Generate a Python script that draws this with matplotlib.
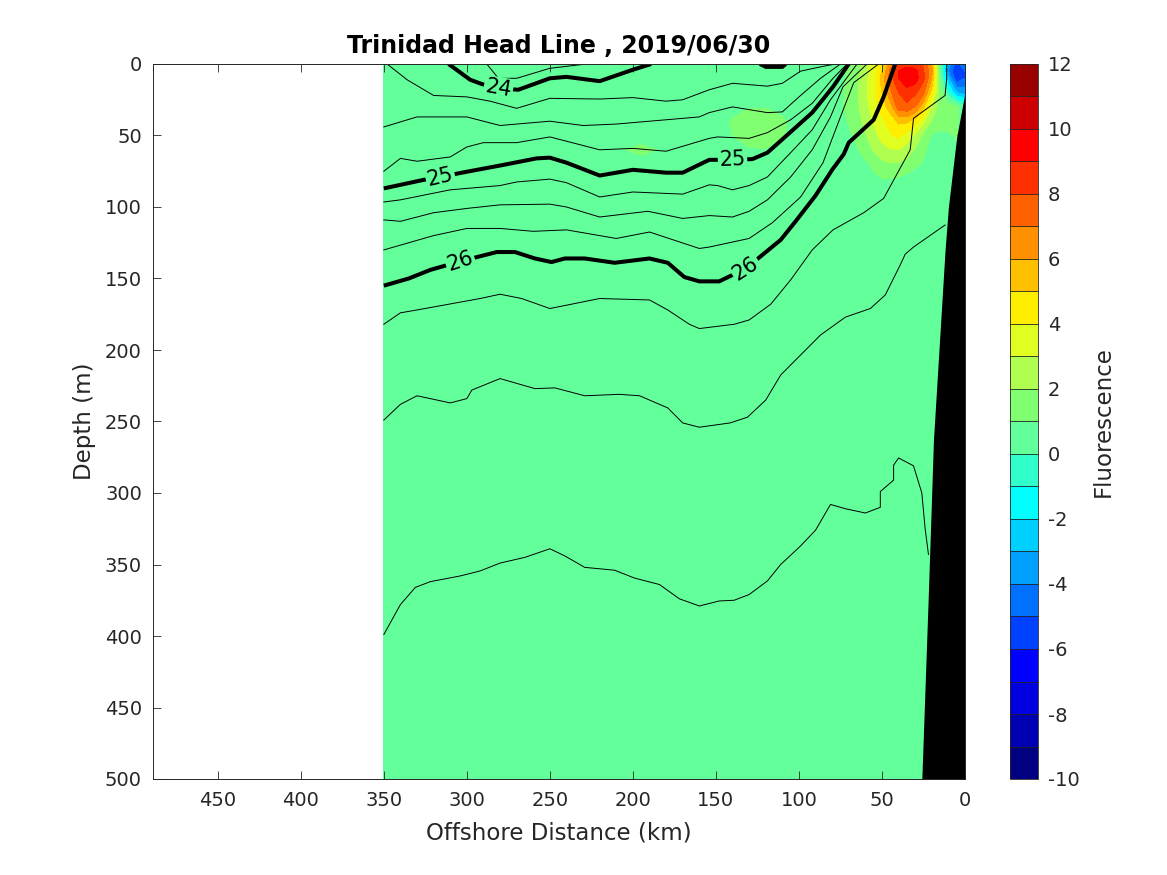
import numpy as np
import matplotlib
matplotlib.use("Agg")
import matplotlib.pyplot as plt
from matplotlib.colors import BoundaryNorm, ListedColormap

# Fluorescence field
fluor_km = [0,5,10,15,20,25,30,35,40,45,50,55,60,65,70,75,80,100,110,120,130,140,150,170,195,220,350]
fluor_depth = [0,5,10,20,30,40,50,60,70,80,90,500]
_far = [.5,.5,.5,.5,.5,.5,.5,.5,.5,.5]
fluor_d0  = [-4,-5.5,-3.5,.5,6,7.8,8.5,8.5,8,6.5,4.5,3.5,2.5,1.6,1,.6,.5] + _far
fluor_d5  = [-5,-6.2,-4,.6,6.3,8.1,9.3,9.7,9,7.2,5,3.6,2.6,1.7,1.1,.6,.5] + _far
fluor_d10 = [-5,-5.8,-3,1,6,8.2,9.5,9.9,9,7.5,5.4,3.7,2.7,1.8,1.2,.7,.5] + _far
fluor_d20 = [-3.5,-3,-.5,1.6,4.5,7.3,8.2,8.5,8,6.8,5,3.8,2.8,1.9,1.3,.8,.5] + _far
fluor_d30 = [.3,1.2,1.5,1.6,2.8,5.2,7,7.8,7.5,5.5,4.5,3.5,2.6,1.8,1.3,.8,.5,.5,.6,.95,.95,.6,.5,.5,.5,.5,.5]
fluor_d40 = [.5,1.1,1.3,1.4,1.9,3.3,4.5,5.2,5.2,4.4,3.8,3.1,2.3,1.6,1.1,.6,.5,.5,1.2,1.6,1.6,1.1,.5,.5,.5,.5,.5]
fluor_d50 = [.5,1.05,.9,.8,.9,1.7,2.8,3.6,4.2,3.9,3.3,2.7,1.9,1.3,.8,.5,.5,.5,1.1,1.5,1.5,1,.5,.5,.5,.5,.5]
fluor_d60 = [.5,.9,.7,.6,.7,1.2,1.9,2.5,3,2.9,2.7,2.1,1.5,.9,.6,.5,.5,.5,.5,.95,.9,.5,.5,.5,1.3,.5,.5]
fluor_d70 = [.5,.5,.5,.5,.6,.9,1.2,1.6,1.9,1.9,1.7,1.2,.8,.6,.5,.5,.5] + _far
fluor_d80 = [.5,.5,.5,.5,.5,.5,.5,.7,.9,1.02,1,.8,.6,.5,.5,.5,.5] + _far
fluor_d90 = [.5] * 27
fluor_d500 = [.5] * 27

# Seabed
bottom_km = [0,5,10,12,19,22,26]
bottom_depth = [20,51,100,130,263,368,500]

# Density contours (thick)
s24a_km = [311,298,291,281,269,250,240,220,200,189]
s24a_d = [0,11,14,17,18,10,9,12,4,0]
s24b_km = [123.5,120,110,108]
s24b_d = [0,2,2,0]
s25_km = [350,326,316,303,280,258,250,240,220,200,180,170,154,140,128,119,105,92,79.5,70]
s25_d = [87,81,79,76,71,66,65.5,69,78,74,76,76,67,67,66.5,62,47.5,34,16,0]
s26_km = [350,335,322,304,282,271,259,249,241,229,211,190,179,169,160,148,132,111,102,90,80,73,70,55,49,42]
s26_d = [155,150,144,138,131.5,131.5,136,138.5,136,136,139,136,139,149,152,152,143,123,110,92,74,63,55,39,23,0]

# Density contours (thin)
a_km = [288,281,270,250,228]
a_d = [0,10,10,3,0]
b_km = [348,336,320,300,286,270,250,220,200,180,170,154,140,119,110,99,87,78]
b_d = [0,11,22,23,26,31,24,24.5,23.5,26,25,18,13.5,15.5,13.5,5,2,0]
c_km = [350,330,300,280,250,230,210,190,160,154,140,119,110,99,87,75]
c_d = [44,37,37,43,40,43,42,40,37,34,30,34,33.5,22,10,0]
d_km = [350,340,330,310,300,290,270,250,220,200,180,154,149,130,119,105,92,79.5,71]
d_d = [75,66,68,65,58,55,55,51,60,59,61,52,51,52,48,39,27.5,10,0]
e_km = [350,340,310,280,270,250,240,220,200,170,154,149,140,130,119,105,92,81,65]
e_d = [96.5,95,88,85,82.5,80.5,83,93,89.5,91,84.5,85,88,85,79,62,46,25,0]
f_km = [350,340,320,300,280,250,240,220,191,170,154,140,130,119,105,92,81,73.5,59]
f_d = [109,110,104,101,98.5,98,100,107,103,108,106,107,103,95,79,60,37,16,0]
g_km = [350,320,300,280,260,240,210,190,160,154,130,116,99,85.5,75,67,52]
g_d = [130,120,115,115,117,116,122,117.5,129,128,122,111,93,69,37,13,0]
h_km = [350,340,330,292,280,267,250,220,190,179,166,160,139,130,117,105,92,79.5,61,49,33,31,12,11,11]
h_d = [182,174,172,164,161,164,171,164,165,172,182,185,182,179,168,151,130,116,104,94,60,38,22,10,0]
i_km = [350,340,330,310,300,297,280,259,247,229,208,196,179,170,160,141.5,131,120,111,99,87,72,57,48,39,36,31,12]
i_d = [249,238,232,237,234,228,220,227,226.5,232,231,232,240.5,251,254,251,247,235,217.5,203.5,189.5,177,171,161.5,140.5,133,128,112.6]
j_km = [350,340,331,322,304,292,280,265,250,241,229,211,199,184,172,160,148,139,130,119,111,99,90,81,72,60,51,51,43,43,40,31,26,24,22]
j_d = [399,378,366,362,358,354.5,349,345,339,344,352,354,359.5,364,374,379,375.5,375,371,361.5,350,337,326,308,311,314,310,299,291,280.5,275.5,281,300,325,343]

thick_lines = [(s24a_km, s24a_d), (s24b_km, s24b_d), (s25_km, s25_d), (s26_km, s26_d)]
thin_lines = [(a_km, a_d), (b_km, b_d), (c_km, c_d), (d_km, d_d), (e_km, e_d),
              (f_km, f_d), (g_km, g_d), (h_km, h_d), (i_km, i_d), (j_km, j_d)]

label_text = ["24", "25", "25", "26", "26"]
label_km = [281, 316, 140, 304, 132]
label_d = [17, 79, 67, 138, 143]
label_rot = [-10, 13, 2, 18, 33]

levels = np.arange(-10, 13, 1)
cbar_ticks = np.arange(-10, 13, 2)
band_colors = ['#000080','#0000B3','#0000E0','#0000FF','#0040FF','#0070FF','#00A0FF','#00D0FF',
               '#00FFFF','#30FFCC','#62FF9B','#80FF70','#B0FF50','#E0FF20','#FFEE00','#FFC000',
               '#FF9000','#FF6000','#FF3000','#FF0000','#CC0000','#990000']

plt.rcParams['font.family'] = ['DejaVu Sans']
plt.rcParams['axes.unicode_minus'] = False
DARK = '#262626'
fig = plt.figure(figsize=(11.67, 8.75), dpi=100)
ax = fig.add_axes([153/1167, 1-779/875, (965-153)/1167, (779-64)/875])
cax = fig.add_axes([1010/1167, 1-779/875, 28/1167, (779-64)/875])

cmap = ListedColormap(band_colors)
norm = BoundaryNorm(levels, cmap.N)

Z = np.array([fluor_d0, fluor_d5, fluor_d10, fluor_d20, fluor_d30, fluor_d40, fluor_d50,
              fluor_d60, fluor_d70, fluor_d80, fluor_d90, fluor_d500])
cf = ax.contourf(fluor_km, fluor_depth, Z, levels=levels, cmap=cmap, norm=norm)

for kms, ds in thin_lines:
    ax.plot(kms, ds, color='black', lw=0.7, zorder=3)
for kms, ds in thick_lines:
    ax.plot(kms, ds, color='black', lw=2.9, zorder=4, solid_capstyle='butt')

ax.fill_betweenx(bottom_depth, bottom_km, 0, color='black', lw=0, zorder=5)

bg = cmap(norm(0.5))
for t, k, d, r in zip(label_text, label_km, label_d, label_rot):
    ax.text(k, d, t, rotation=r, rotation_mode='anchor', ha='center', va='center',
            fontsize=15, color='black', zorder=6,
            bbox=dict(fc=bg, ec='none', pad=1.0))

ax.set_xlim(489, 0)
ax.set_ylim(500, 0)
ax.set_xticks(np.arange(450, -1, -50))
ax.set_yticks(np.arange(0, 501, 50))
ax.tick_params(direction='in', length=6, width=0.6, top=True, right=True,
               labelsize=14, colors=DARK, pad=8)
ax.tick_params(axis='x', pad=9)
ax.set_xlabel('Offshore Distance (km)', fontsize=16.5, color=DARK, labelpad=8)
ax.set_ylabel('Depth (m)', fontsize=16.5, color=DARK, labelpad=6)
ax.set_title('Trinidad Head Line , 2019/06/30', fontsize=17, fontweight='bold', color='black', pad=8)
for s in ax.spines.values():
    s.set_color(DARK)
    s.set_linewidth(0.7)
    s.set_zorder(7)

cb = fig.colorbar(cf, cax=cax, ticks=cbar_ticks, drawedges=True, spacing='proportional')
cb.dividers.set_color('#222222')
cb.dividers.set_linewidth(0.6)
cb.outline.set_edgecolor(DARK)
cb.outline.set_linewidth(0.6)
cb.ax.minorticks_off()
cax.tick_params(which='both', length=0, labelsize=14, colors=DARK, pad=7)
cb.set_label('Fluorescence', fontsize=16.5, color=DARK, labelpad=9)

fig.savefig('out.png', dpi=100)
